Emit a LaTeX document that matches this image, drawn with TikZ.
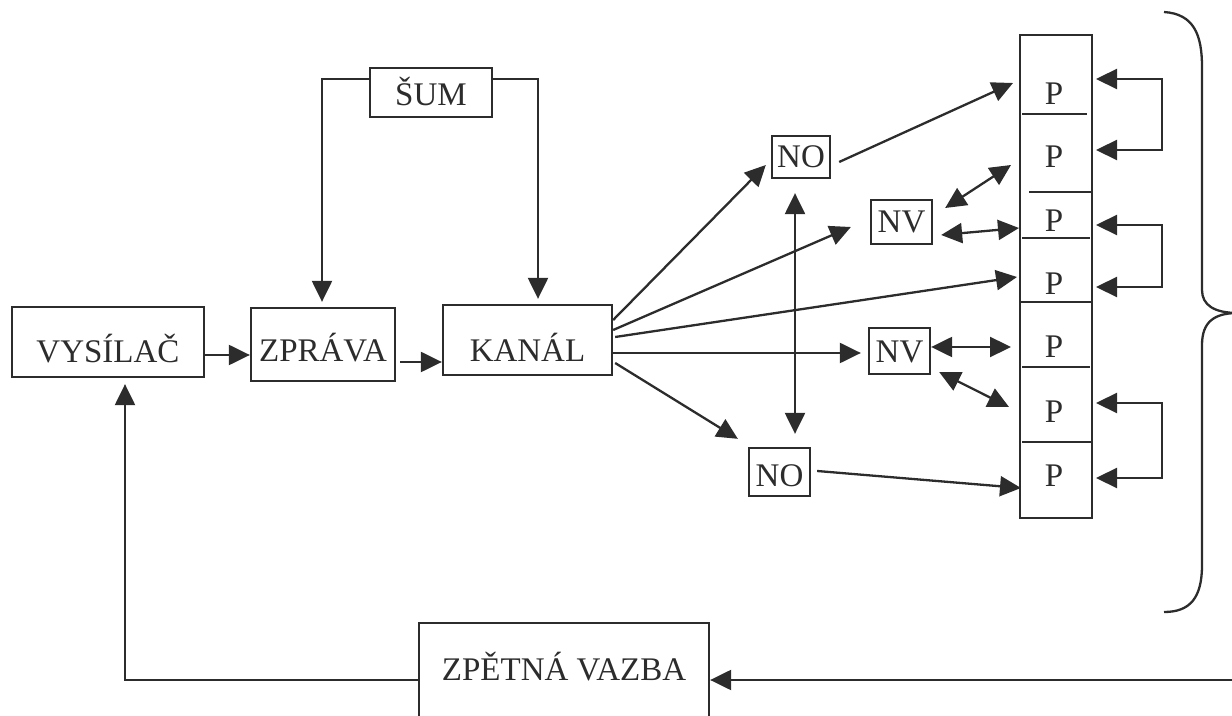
\documentclass[tikz,border=0pt]{standalone}
\usepackage{fontspec}
\setmainfont{Liberation Serif}
\usetikzlibrary{arrows.meta}
\definecolor{ink}{HTML}{2C2C2C}
\tikzset{
  tip/.tip={Triangle[length=10.5pt,width=10pt]},
  blk/.style={draw=ink, line width=1.15pt, inner sep=0pt, text=ink,
              font=\fontsize{16.5}{19}\selectfont},
  lbl/.style={inner sep=0pt, text=ink, anchor=base, font=\fontsize{16.5}{19}\selectfont},
  wire/.style={draw=ink, line width=1.15pt},
  arr/.style={wire, -tip},
  dbl/.style={wire, tip-tip},
}
\begin{document}
\begin{tikzpicture}[x=0.5pt,y=-0.5pt]
\path[use as bounding box, clip] (0,0) rectangle (1232,716);

% main chain
\node[blk, minimum width=96pt, minimum height=35pt, text height=28pt, text depth=7pt]
  (vys) at (108,342) {VYSÍLAČ};
\node[blk, minimum width=72pt, minimum height=36.5pt, text height=27pt, text depth=9.5pt]
  (zpr) at (323,344.5) {ZPRÁVA};
\node[blk, minimum width=84.5pt, minimum height=35pt, text height=28.5pt, text depth=6.5pt]
  (kan) at (527.5,340) {KANÁL};
\node[blk, minimum width=61pt, minimum height=24.5pt, text height=19pt, text depth=5.5pt]
  (sum) at (431,92.5) {ŠUM};
\node[blk, minimum width=145pt, minimum height=61pt, text height=28.5pt, text depth=32.5pt]
  (zpet) at (564,684) {ZPĚTNÁ VAZBA};

% small boxes
\node[blk, minimum width=29pt, minimum height=21pt, text height=16pt, text depth=5pt]
  (no1) at (801,157) {NO};
\node[blk, minimum width=30.5pt, minimum height=22pt, text height=16.5pt, text depth=5.5pt]
  (nv1) at (901.5,222) {NV};
\node[blk, minimum width=30.5pt, minimum height=23pt, text height=17.5pt, text depth=5.5pt]
  (nv2) at (899.5,351) {NV};
\node[blk, minimum width=30.5pt, minimum height=24pt, text height=19.5pt, text depth=4.5pt]
  (no2) at (779.5,472) {NO};

% column of receivers
\node[blk, minimum width=36pt, minimum height=241.5pt] (col) at (1056,276.5) {};
\draw[wire] (1022,114) -- (1087,114);
\draw[wire] (1029,192) -- (1092,192);
\draw[wire] (1022,238) -- (1090,238);
\draw[wire] (1020,302) -- (1092,302);
\draw[wire] (1022,367) -- (1090,367);
\draw[wire] (1022,442) -- (1092,442);
\node[lbl] (p1) at (1054,105) {P};
\node[lbl] (p2) at (1054,168) {P};
\node[lbl] (p3) at (1054,232) {P};
\node[lbl] (p4) at (1054,295) {P};
\node[lbl] (p5) at (1054,358) {P};
\node[lbl] (p6) at (1054,423) {P};
\node[lbl] (p7) at (1054,487) {P};

% ports on the column
\coordinate (pl1) at (1013,83);
\coordinate (pl2) at (1011,165);
\coordinate (pl3) at (1019,228);
\coordinate (pl4) at (1017,277);
\coordinate (pl5) at (1011,347);
\coordinate (pl6) at (1009,407);
\coordinate (pl7) at (1021,488);
\coordinate (pr1) at (1096,79);
\coordinate (pr2) at (1096,150);
\coordinate (pr3) at (1096,225);
\coordinate (pr4) at (1096,287);
\coordinate (pr5) at (1096,403);
\coordinate (pr6) at (1096,478);

% chain arrows
\path ([shift={(0,13)}]vys.east) coordinate (a1);
\draw[arr] (a1) -- (a1 -| zpr.west);
\path ([shift={(4,17.5)}]zpr.east) coordinate (a2);
\draw[arr] (a2) -- (a2 -| kan.west);

% noise
\draw[arr] ([shift={(0,12)}]sum.north west) -| ([shift={(-1,-5)}]zpr.north);
\draw[arr] ([shift={(0,12)}]sum.north east) -| ([shift={(10.5,-5)}]kan.north);

% channel fan-out
\draw[arr] ([shift={(0,-20)}]kan.east) -- ([shift={(-5,8)}]no1.west);
\draw[arr] ([shift={(0,-10)}]kan.east) -- ([shift={(-19,5)}]nv1.west);
\draw[arr] ([shift={(2,-3)}]kan.east) -- (pl4);
\draw[arr] ([shift={(0,13)}]kan.east) -- ([shift={(-7,2)}]nv2.west);
\draw[arr] ([shift={(2,23)}]kan.east) -- ([shift={(-10,-8)}]no2.north west);

% NO / NV to receivers
\draw[arr] ([shift={(8,5)}]no1.east) -- (pl1);
\draw[arr] ([shift={(6,-1)}]no2.east) -- (pl7);
\draw[dbl] ([shift={(12,-14)}]nv1.east) -- (pl2);
\draw[dbl] ([shift={(8,13)}]nv1.east) -- (pl3);
\draw[dbl] ([shift={(0,-4)}]nv2.east) -- (pl5);
\draw[dbl] ([shift={(8,21)}]nv2.east) -- (pl6);
\path ([shift={(-6,14)}]no1.south) coordinate (vt);
\draw[dbl, shorten >=6.5pt] (vt) -- (vt |- no2.north);

% links between receivers
\draw[dbl] (pr1) -- ++(66,0) |- (pr2);
\draw[dbl] (pr3) -- ++(66,0) |- (pr4);
\draw[dbl] (pr5) -- ++(66,0) |- (pr6);

% brace
\draw[wire] (1164,12) .. controls (1194,14) and (1202,35) .. (1202,67)
  -- (1202,290) .. controls (1202,305) and (1214,313) .. (1238,313)
  .. controls (1214,313) and (1202,322) .. (1202,345)
  -- (1202,565) .. controls (1202,598) and (1190,612) .. (1164,612);

% feedback
\coordinate (fbR) at (1240,680);
\draw[arr] (fbR) -- (fbR -| zpet.east);
\draw[arr] (fbR -| zpet.west) -| ([shift={(17,6)}]vys.south);
\end{tikzpicture}
\end{document}
